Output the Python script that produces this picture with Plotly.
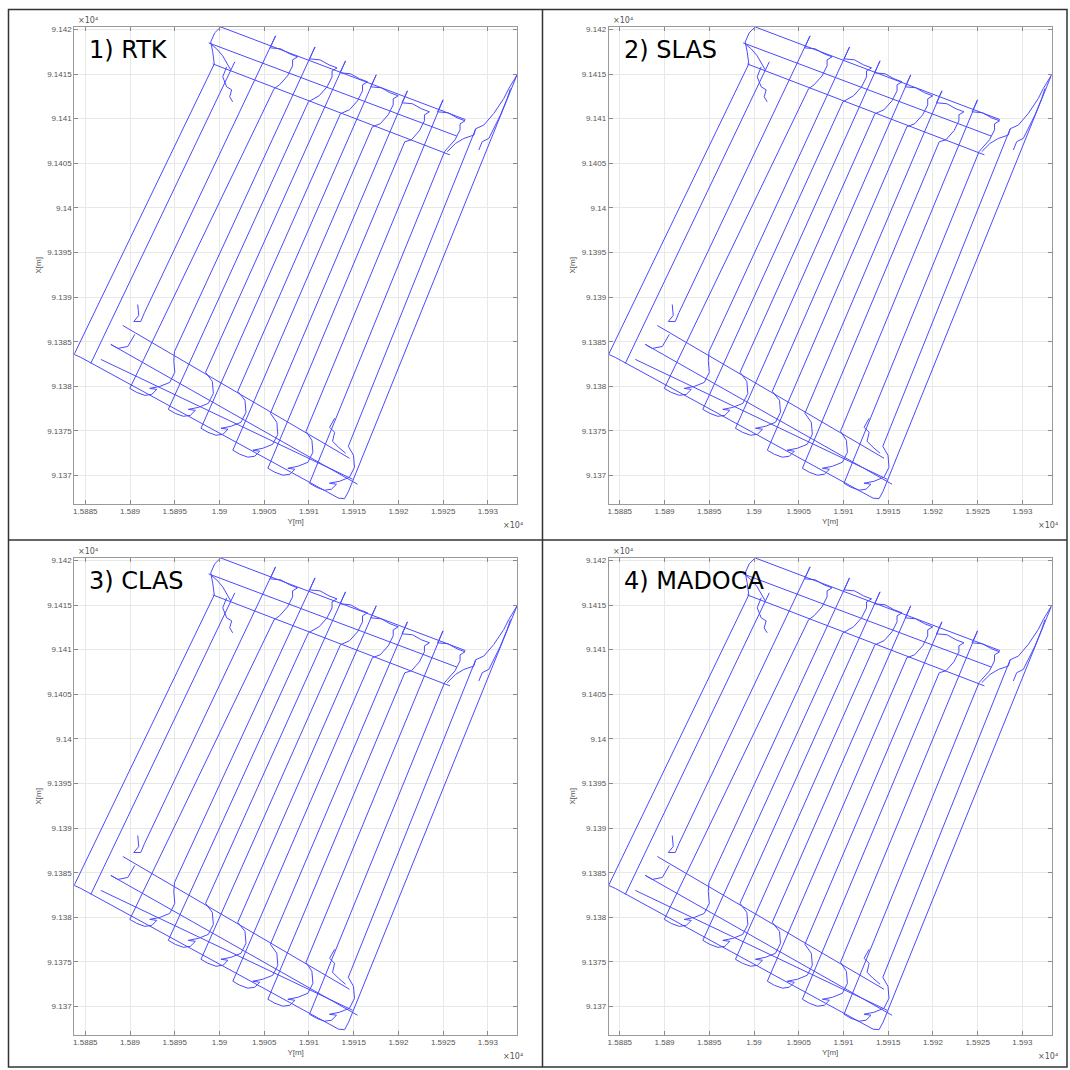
import plotly.graph_objects as go

# ---------------- data (Y = easting-like axis [m], X = northing-like axis [m]) -------------
# 16 long passes: bottom end and top end
pass_bottom_Y = [15883.75, 15885.61, 15891.62, 15889.97, 15894.97, 15894.28, 15898.44, 15897.93,
                 15902.04, 15901.49, 15905.69, 15905.41, 15909.67, 15910.06, 15914.40, 15914.43]
pass_bottom_X = [91383.58, 91382.57, 91388.28, 91379.77, 91383.91, 91377.42, 91381.57, 91375.30,
                 91379.44, 91372.84, 91376.98, 91370.82, 91374.96, 91369.14, 91373.28, 91368.25]
pass_top_Y = [15899.42, 15901.71, 15906.27, 15906.10, 15910.68, 15909.94, 15914.09, 15913.52,
              15917.52, 15917.09, 15921.01, 15920.71, 15924.99, 15925.16, 15928.64, 15933.25]
pass_top_X = [91416.14, 91416.37, 91419.28, 91413.35, 91418.04, 91411.89, 91416.48, 91410.55,
              91414.91, 91409.09, 91413.12, 91407.41, 91412.11, 91406.30, 91408.87, 91414.88]

# turns at the upper headland
top_turns_Y = [
    [15906.27, 15905.66, 15906.83, 15907.83, 15908.73, 15908.17, 15908.17, 15907.61, 15906.72, 15906.10],
    [15910.68, 15910.07, 15911.24, 15912.24, 15913.14, 15912.58, 15912.58, 15912.02, 15911.13, 15909.94],
    [15914.09, 15913.48, 15914.65, 15915.65, 15916.55, 15915.99, 15915.99, 15915.43, 15914.54, 15913.52],
    [15917.52, 15916.91, 15918.08, 15919.08, 15919.98, 15919.42, 15919.42, 15918.86, 15917.97, 15917.09],
    [15921.01, 15920.40, 15921.57, 15922.57, 15923.47, 15922.91, 15922.91, 15922.35, 15921.46, 15920.71],
    [15924.99, 15924.38, 15925.55, 15926.55, 15927.45, 15926.89, 15926.89, 15926.33, 15925.44, 15925.16],
]
top_turns_X = [
    [91419.28, 91417.94, 91417.83, 91417.27, 91416.93, 91416.59, 91415.92, 91414.80, 91413.80, 91413.35],
    [91418.04, 91416.70, 91416.59, 91416.03, 91415.69, 91415.35, 91414.68, 91413.56, 91412.56, 91411.89],
    [91416.48, 91415.14, 91415.03, 91414.47, 91414.13, 91413.79, 91413.12, 91412.00, 91411.00, 91410.55],
    [91414.91, 91413.57, 91413.46, 91412.90, 91412.56, 91412.22, 91411.55, 91410.43, 91409.43, 91409.09],
    [91413.12, 91411.78, 91411.67, 91411.11, 91410.77, 91410.43, 91409.76, 91408.64, 91407.64, 91407.41],
    [91412.11, 91410.77, 91410.66, 91410.10, 91409.76, 91409.42, 91408.75, 91407.63, 91406.63, 91406.30],
]

# turns at the lower headland
bottom_turns_Y = [
    [15889.97, 15890.75, 15891.65, 15892.43, 15892.99, 15892.20, 15893.32, 15894.44, 15895.00, 15894.89, 15894.97],
    [15894.28, 15895.06, 15895.96, 15896.74, 15897.30, 15896.51, 15897.63, 15898.75, 15899.31, 15899.20, 15898.44],
    [15897.93, 15898.71, 15899.61, 15900.39, 15900.95, 15900.16, 15901.28, 15902.40, 15902.96, 15902.85, 15902.04],
    [15901.49, 15902.27, 15903.17, 15903.95, 15904.51, 15903.72, 15904.84, 15905.96, 15906.52, 15906.41, 15905.69],
    [15905.41, 15906.19, 15907.09, 15907.87, 15908.43, 15907.64, 15908.76, 15909.88, 15910.44, 15910.33, 15909.67],
    [15910.06, 15910.84, 15911.74, 15912.52, 15913.08, 15912.29, 15913.41, 15914.53, 15915.09, 15914.98, 15914.40],
]
bottom_turns_X = [
    [91379.77, 91379.32, 91378.99, 91379.10, 91379.66, 91379.77, 91379.99, 91380.44, 91381.56, 91382.90, 91383.91],
    [91377.42, 91376.97, 91376.64, 91376.75, 91377.31, 91377.42, 91377.64, 91378.09, 91379.21, 91380.55, 91381.57],
    [91375.30, 91374.85, 91374.52, 91374.63, 91375.19, 91375.30, 91375.52, 91375.97, 91377.09, 91378.43, 91379.44],
    [91372.84, 91372.39, 91372.06, 91372.17, 91372.73, 91372.84, 91373.06, 91373.51, 91374.63, 91375.97, 91376.98],
    [91370.82, 91370.37, 91370.04, 91370.15, 91370.71, 91370.82, 91371.04, 91371.49, 91372.61, 91373.95, 91374.96],
    [91369.14, 91368.69, 91368.36, 91368.47, 91369.03, 91369.14, 91369.36, 91369.81, 91370.93, 91372.27, 91373.28],
]

# headland passes and other small pieces of the track
headland_Y = [
    [15900.13, 15927.49],
    [15898.79, 15926.53],
    [15899.24, 15925.76],
    [15900.13, 15899.46, 15899.02, 15899.24, 15899.42],
    [15899.02, 15899.69, 15900.36, 15900.92, 15901.25],
    [15900.80, 15900.36, 15900.80, 15901.36, 15901.14, 15901.47],
    [15925.46, 15926.38, 15927.31, 15928.43, 15928.64],
    [15928.64, 15929.55, 15930.66, 15931.78, 15932.34, 15933.25],
    [15928.99, 15929.37, 15930.11, 15930.66, 15931.41, 15932.16, 15932.53],
    [15883.75, 15884.50, 15913.31, 15913.98, 15914.43],
    [15886.73, 15914.88],
    [15887.85, 15915.43],
    [15889.19, 15914.54],
    [15887.85, 15888.63, 15889.75, 15890.30, 15890.53],
    [15891.62, 15891.20, 15890.42, 15890.97, 15890.86],
    [15912.87, 15912.31, 15912.87, 15912.64, 15913.31, 15914.10],
]
headland_X = [
    [91420.28, 91409.90],
    [91418.49, 91408.05],
    [91416.14, 91405.94],
    [91420.28, 91419.61, 91418.60, 91417.49, 91416.14],
    [91418.38, 91417.82, 91417.04, 91416.14, 91415.47],
    [91415.81, 91414.69, 91413.57, 91413.23, 91412.45, 91411.89],
    [91406.30, 91407.22, 91407.78, 91408.16, 91408.87],
    [91408.87, 91409.28, 91410.58, 91412.26, 91413.38, 91414.88],
    [91406.49, 91407.42, 91407.79, 91408.91, 91410.41, 91412.26, 91413.38],
    [91383.58, 91383.24, 91367.47, 91367.41, 91368.25],
    [91383.02, 91369.59],
    [91384.70, 91369.03],
    [91386.82, 91371.94],
    [91384.70, 91384.25, 91384.47, 91385.37, 91385.82],
    [91388.28, 91387.27, 91387.27, 91387.94, 91389.17],
    [91376.42, 91375.41, 91374.85, 91373.84, 91373.17, 91372.50],
]

panel_titles = ["1) RTK", "2) SLAS", "3) CLAS", "4) MADOCA"]
x_tick_vals = [15885, 15890, 15895, 15900, 15905, 15910, 15915, 15920, 15925, 15930]
x_tick_text = ["1.5885", "1.589", "1.5895", "1.59", "1.5905", "1.591", "1.5915", "1.592", "1.5925", "1.593"]
y_tick_vals = [91370, 91375, 91380, 91385, 91390, 91395, 91400, 91405, 91410, 91415, 91420]
y_tick_text = ["9.137", "9.1375", "9.138", "9.1385", "9.139", "9.1395", "9.14", "9.1405", "9.141", "9.1415", "9.142"]
exponent_text = "×10⁴"

# ---------------- build track ----------------
track_Y, track_X = [], []
for i in range(len(pass_bottom_Y)):
    track_Y += [pass_bottom_Y[i], pass_top_Y[i], None]
    track_X += [pass_bottom_X[i], pass_top_X[i], None]
for ys, xs in zip(top_turns_Y + bottom_turns_Y + headland_Y, top_turns_X + bottom_turns_X + headland_X):
    track_Y += list(ys) + [None]
    track_X += list(xs) + [None]

W = H = 1070
# axes boxes in pixels (left, right, top, bottom)
boxes = [
    (73.3, 516.5, 24.8, 502.8),
    (608.3, 1051.5, 24.8, 502.8),
    (73.3, 516.5, 556.8, 1034.8),
    (608.3, 1051.5, 556.8, 1034.8),
]
x_range = [15883.76, 15933.26]
y_range = [91366.83, 91420.3]

fig = go.Figure()
layout = dict(
    width=W, height=H, autosize=False,
    margin=dict(l=0, r=0, t=0, b=0),
    paper_bgcolor="white", plot_bgcolor="white",
    showlegend=False,
)
annotations = []
shapes = []
small_font = dict(family="Liberation Sans, Arial, sans-serif", size=8, color="#555555")

for k, (l, r, t, b) in enumerate(boxes):
    sfx = "" if k == 0 else str(k + 1)
    fig.add_trace(go.Scatter(
        x=track_Y, y=track_X, mode="lines",
        line=dict(color="#4a4aff", width=1),
        xaxis="x" + sfx, yaxis="y" + sfx, hoverinfo="skip",
    ))
    common = dict(
        showgrid=True, gridcolor="#e8e8e8", gridwidth=1, zeroline=False,
        showline=True, linecolor="#9a9a9a", linewidth=1, mirror="allticks",
        ticks="inside", ticklen=4, tickcolor="#8a8a8a", tickfont=small_font,
        fixedrange=True,
    )
    layout["xaxis" + sfx] = dict(
        common, domain=[l / W, r / W], range=x_range, anchor="y" + sfx,
        tickmode="array", tickvals=x_tick_vals, ticktext=x_tick_text,
        title=dict(text="Y[m]", font=small_font, standoff=2),
    )
    layout["yaxis" + sfx] = dict(
        common, domain=[1 - b / H, 1 - t / H], range=y_range, anchor="x" + sfx,
        tickmode="array", tickvals=y_tick_vals, ticktext=y_tick_text,
        title=dict(text="X[m]", font=small_font, standoff=4),
    )
    # panel title
    annotations.append(dict(
        text=panel_titles[k], xref="paper", yref="paper",
        x=(l + 13) / W, y=1 - (t + 23.5) / H, xanchor="left", yanchor="middle",
        showarrow=False, font=dict(family="DejaVu Sans, Verdana, sans-serif", size=24, color="black"),
    ))
    # exponent labels
    annotations.append(dict(
        text=exponent_text, xref="paper", yref="paper",
        x=(l + 2) / W, y=1 - (t - 6) / H, xanchor="left", yanchor="middle",
        showarrow=False, font=dict(family="DejaVu Sans, sans-serif", size=8, color="#555555"),
    ))
    annotations.append(dict(
        text=exponent_text, xref="paper", yref="paper",
        x=(r - 4) / W, y=1 - (b + 22) / H, xanchor="center", yanchor="middle",
        showarrow=False, font=dict(family="DejaVu Sans, sans-serif", size=8, color="#555555"),
    ))

# outer frame and dividers
frame = dict(color="#333333", width=1.5)
shapes.append(dict(type="rect", xref="paper", yref="paper",
                   x0=7.5 / W, x1=1067 / W, y0=1 - 1067 / H, y1=1 - 7.5 / H, line=frame))
shapes.append(dict(type="line", xref="paper", yref="paper",
                   x0=542 / W, x1=542 / W, y0=1 - 1067 / H, y1=1 - 7.5 / H, line=frame))
shapes.append(dict(type="line", xref="paper", yref="paper",
                   x0=7.5 / W, x1=1067 / W, y0=1 - 539 / H, y1=1 - 539 / H, line=frame))

layout["annotations"] = annotations
layout["shapes"] = shapes
fig.update_layout(**layout)

fig.write_html("out.html", config={"displayModeBar": False},
               post_script="document.body.style.margin='0';")
